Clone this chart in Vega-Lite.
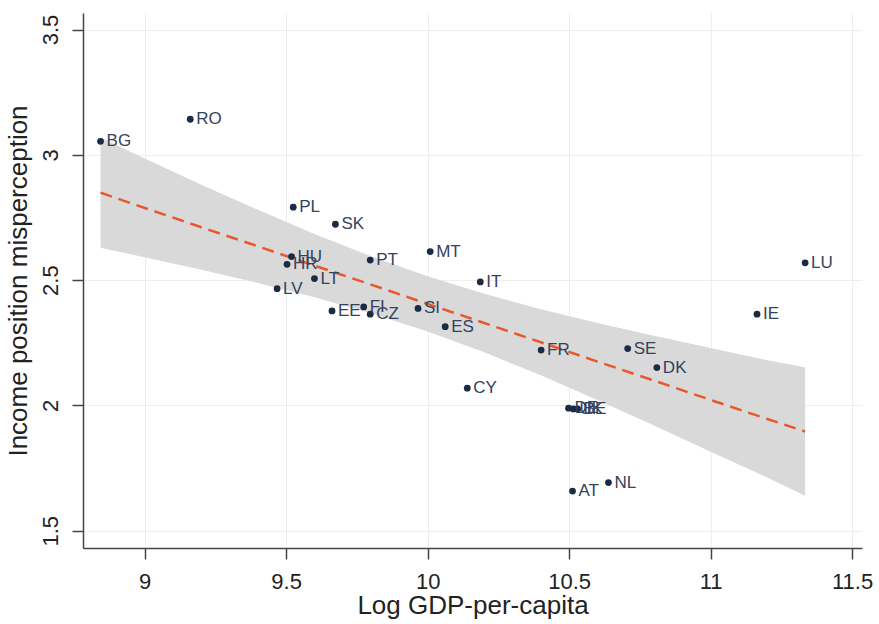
{
  "$schema": "https://vega.github.io/schema/vega-lite/v6.json",
  "width": 779,
  "height": 535,
  "autosize": {"type": "none"},
  "padding": {"left": 83, "top": 13, "right": 17, "bottom": 76},
  "background": "white",
  "config": {
    "view": {"stroke": null},
    "font": "Liberation Sans",
    "axis": {
      "domainColor": "#444444",
      "domainWidth": 1.5,
      "tickColor": "#444444",
      "tickWidth": 1.5,
      "tickSize": 11,
      "gridColor": "#eeeeee",
      "gridWidth": 1,
      "labelFont": "Liberation Sans",
      "titleFont": "Liberation Sans",
      "labelColor": "#222222",
      "titleColor": "#222222",
      "labelFontSize": 22,
      "titleFontSize": 26,
      "titleFontWeight": "normal",
      "format": "~g"
    }
  },
  "datasets": {
    "pts": [
      {"country": "BG", "gdp": 8.844, "mis": 3.054},
      {"country": "RO", "gdp": 9.161, "mis": 3.142},
      {"country": "PL", "gdp": 9.525, "mis": 2.791},
      {"country": "SK", "gdp": 9.674, "mis": 2.723},
      {"country": "HU", "gdp": 9.519, "mis": 2.594},
      {"country": "HR", "gdp": 9.503, "mis": 2.563},
      {"country": "LT", "gdp": 9.600, "mis": 2.506},
      {"country": "LV", "gdp": 9.468, "mis": 2.466},
      {"country": "PT", "gdp": 9.797, "mis": 2.580},
      {"country": "MT", "gdp": 10.009, "mis": 2.614},
      {"country": "IT", "gdp": 10.186, "mis": 2.493},
      {"country": "EE", "gdp": 9.662, "mis": 2.377},
      {"country": "FI", "gdp": 9.774, "mis": 2.393},
      {"country": "CZ", "gdp": 9.797, "mis": 2.364},
      {"country": "SI", "gdp": 9.966, "mis": 2.387},
      {"country": "ES", "gdp": 10.062, "mis": 2.314},
      {"country": "CY", "gdp": 10.140, "mis": 2.069},
      {"country": "FR", "gdp": 10.401, "mis": 2.221},
      {"country": "SE", "gdp": 10.707, "mis": 2.227},
      {"country": "DK", "gdp": 10.810, "mis": 2.151},
      {"country": "IE", "gdp": 11.164, "mis": 2.364},
      {"country": "LU", "gdp": 11.334, "mis": 2.569},
      {"country": "NL", "gdp": 10.639, "mis": 1.692},
      {"country": "AT", "gdp": 10.512, "mis": 1.658},
      {"country": "DE", "gdp": 10.498, "mis": 1.989},
      {"country": "UK", "gdp": 10.515, "mis": 1.986},
      {"country": "BE", "gdp": 10.530, "mis": 1.986}
    ],
    "fit": [
      {"gdp": 8.844, "fit": 2.849, "lo": 2.629, "hi": 3.069},
      {"gdp": 9.0, "fit": 2.788, "lo": 2.591, "hi": 2.985},
      {"gdp": 9.2, "fit": 2.711, "lo": 2.541, "hi": 2.881},
      {"gdp": 9.4, "fit": 2.635, "lo": 2.489, "hi": 2.781},
      {"gdp": 9.6, "fit": 2.558, "lo": 2.432, "hi": 2.684},
      {"gdp": 9.8, "fit": 2.482, "lo": 2.368, "hi": 2.595},
      {"gdp": 10.0, "fit": 2.405, "lo": 2.295, "hi": 2.515},
      {"gdp": 10.2, "fit": 2.329, "lo": 2.212, "hi": 2.446},
      {"gdp": 10.4, "fit": 2.252, "lo": 2.120, "hi": 2.384},
      {"gdp": 10.6, "fit": 2.175, "lo": 2.022, "hi": 2.329},
      {"gdp": 10.8, "fit": 2.099, "lo": 1.920, "hi": 2.278},
      {"gdp": 11.0, "fit": 2.022, "lo": 1.815, "hi": 2.229},
      {"gdp": 11.2, "fit": 1.946, "lo": 1.712, "hi": 2.180},
      {"gdp": 11.334, "fit": 1.896, "lo": 1.640, "hi": 2.152}
    ]
  },
  "layer": [
    {
      "data": {"name": "fit"},
      "mark": {"type": "area", "color": "#d9d9d9", "opacity": 1},
      "encoding": {
        "x": {
          "field": "gdp", "type": "quantitative",
          "scale": {"domain": [8.782, 11.535], "nice": false, "zero": false},
          "axis": {
            "title": "Log GDP-per-capita",
            "values": [9, 9.5, 10, 10.5, 11, 11.5],
            "grid": true,
            "labelPadding": 12,
            "titlePadding": 0
          }
        },
        "y": {
          "field": "lo", "type": "quantitative",
          "scale": {"domain": [1.431, 3.566], "nice": false, "zero": false},
          "axis": {
            "title": "Income position misperception",
            "values": [1.5, 2, 2.5, 3, 3.5],
            "grid": true,
            "labelAngle": -90,
            "labelAlign": "center",
            "labelBaseline": "bottom",
            "labelPadding": 10,
            "titlePadding": 8
          }
        },
        "y2": {"field": "hi"}
      }
    },
    {
      "data": {"name": "fit"},
      "mark": {"type": "line", "color": "#e8582c", "strokeWidth": 2.5, "strokeDash": [12, 7]},
      "encoding": {
        "x": {"field": "gdp", "type": "quantitative"},
        "y": {"field": "fit", "type": "quantitative"}
      }
    },
    {
      "data": {"name": "pts"},
      "mark": {"type": "circle", "color": "#1b2a45", "opacity": 1, "size": 46},
      "encoding": {
        "x": {"field": "gdp", "type": "quantitative"},
        "y": {"field": "mis", "type": "quantitative"}
      }
    },
    {
      "data": {"name": "pts"},
      "mark": {"type": "text", "align": "left", "baseline": "middle", "dx": 6, "fontSize": 17, "color": "#34425c", "font": "Liberation Sans"},
      "encoding": {
        "x": {"field": "gdp", "type": "quantitative"},
        "y": {"field": "mis", "type": "quantitative"},
        "text": {"field": "country"}
      }
    }
  ]
}
